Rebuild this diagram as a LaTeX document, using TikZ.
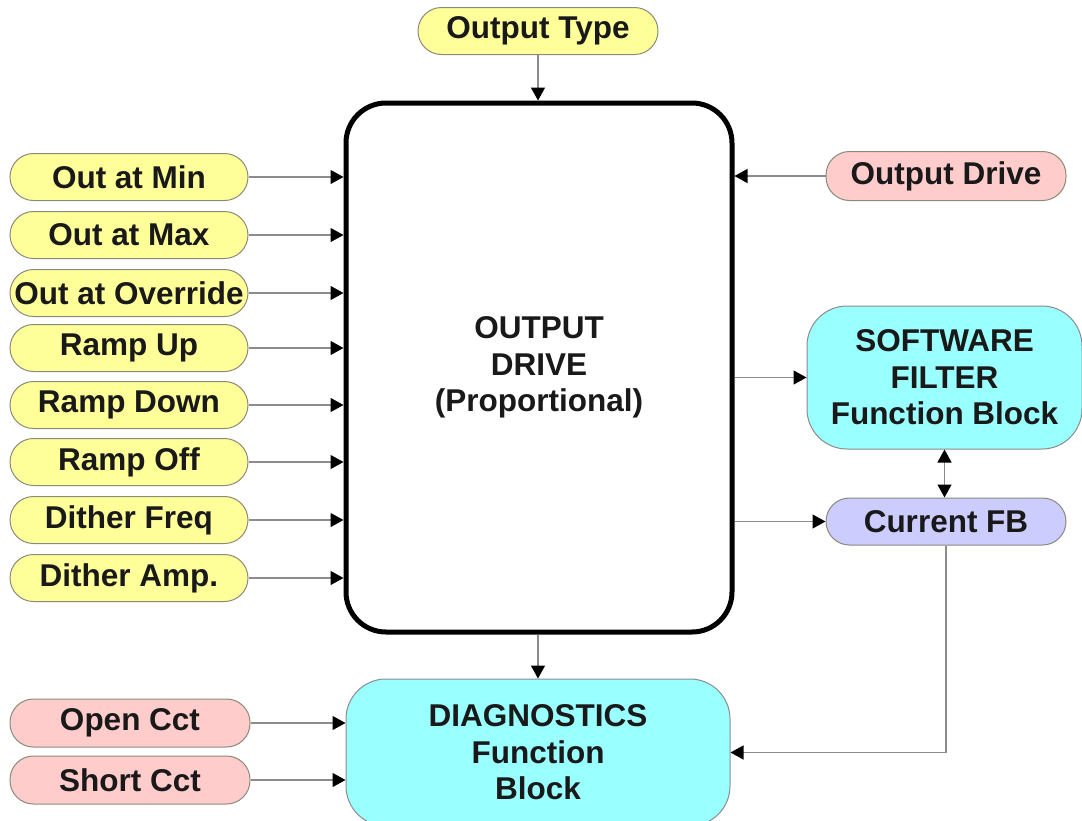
\documentclass[tikz,border=0pt]{standalone}
\usepackage{fontspec}
\setmainfont{Liberation Sans}
\usetikzlibrary{arrows.meta}
\definecolor{pyellow}{HTML}{FFFF99}
\definecolor{ppink}{HTML}{FFCCCC}
\definecolor{pcyan}{HTML}{99FFFF}
\definecolor{plav}{HTML}{CCCCFF}
\definecolor{pborder}{HTML}{8A8A7A}
\definecolor{lgray}{HTML}{8C8C8C}
\tikzset{
  txt/.style={font=\fontsize{31.5}{36.5}\selectfont\bfseries, text=black!90, align=center},
  pill/.style={txt, draw=pborder, line width=1pt, rounded corners=23.5pt, minimum width=238pt, minimum height=47pt, inner sep=0pt},
  yel/.style={pill, fill=pyellow},
  pnk/.style={pill, fill=ppink},
  lav/.style={pill, fill=plav},
  blockbox/.style={txt, draw=lgray, line width=1pt, fill=pcyan, rounded corners=40pt, inner sep=0pt},
  conn/.style={draw=lgray, line width=1.3pt, -{Triangle[color=black,length=13pt,width=14pt]}},
  dconn/.style={draw=lgray, line width=1.3pt, {Triangle[color=black,length=13pt,width=14pt]}-{Triangle[color=black,length=13pt,width=14pt]}}
}
\begin{document}
\begin{tikzpicture}[x=1pt,y=-1pt]
\useasboundingbox (0,0) rectangle (1082,820);
\begin{scope}
\clip (0,0) rectangle (1082,820);
% main block
\node[txt, draw=black, line width=5pt, fill=white, rounded corners=40pt, minimum width=386pt, minimum height=529pt, inner sep=0pt] (main) at (539,367.5) {OUTPUT\\DRIVE\\(Proportional)};
\node[yel, minimum width=240pt] (otype) at (538,31) {Output Type};
\node[yel] (omin) at (129,177) {Out at Min};
\node[yel] (omax) at (129,235) {Out at Max};
\node[yel] (oovr) at (129,293) {Out at Override};
\node[yel] (rup) at (129,348) {Ramp Up};
\node[yel] (rdn) at (129,405) {Ramp Down};
\node[yel] (roff) at (129,462) {Ramp Off};
\node[yel] (dfreq) at (129,520) {Dither Freq};
\node[yel] (damp) at (129,578) {Dither Amp.};
\node[pnk, minimum width=240pt, minimum height=49pt] (odrv) at (946,176) {Output Drive};
\node[blockbox, minimum width=275pt, minimum height=143pt] (sf) at (944.5,377.5) {SOFTWARE\\FILTER\\Function Block};
\node[lav, minimum width=240pt] (cfb) at (946,521.5) {Current FB};
\node[blockbox, minimum width=384pt, minimum height=147pt] (diag) at (538,752.5) {DIAGNOSTICS\\Function\\Block};
\node[pnk, minimum width=240pt, minimum height=48pt] (occt) at (130,723) {Open Cct};
\node[pnk, minimum width=240pt, minimum height=48pt] (scct) at (130,780) {Short Cct};
% connectors
\draw[conn] (otype.south) -- (otype.south |- main.north);
\foreach \n in {omin,omax,oovr,rup,rdn,roff,dfreq,damp}
  \draw[conn] (\n.east) -- (\n.east -| main.west);
\draw[conn] (odrv.west) -- (odrv.west -| main.east);
\draw[conn] (main.east |- sf.west) -- (sf.west);
\draw[conn] (main.east |- cfb.west) -- (cfb.west);
\draw[dconn] (sf.south) -- (sf.south |- cfb.north);
\draw[conn] (cfb.south) |- (diag.east);
\draw[conn] (diag.north |- main.south) -- (diag.north);
\draw[conn] (occt.east) -- (occt.east -| diag.west);
\draw[conn] (scct.east) -- (scct.east -| diag.west);
\end{scope}
\end{tikzpicture}
\end{document}
